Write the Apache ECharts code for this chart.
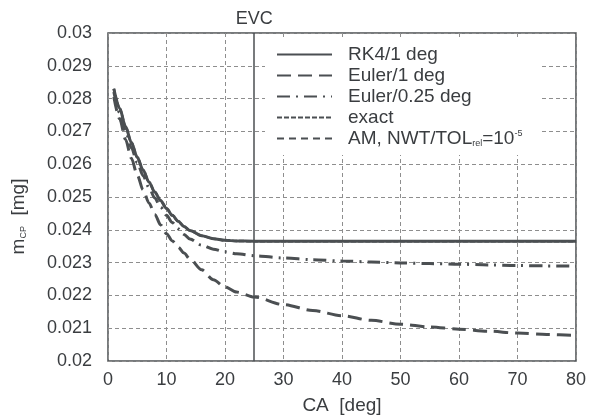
<!DOCTYPE html>
<html>
<head>
<meta charset="utf-8">
<script src="https://cdn.jsdelivr.net/npm/echarts@6/dist/echarts.min.js"></script>
<style>
html,body{margin:0;padding:0;background:#fff;}
#chart{width:589px;height:420px;}
</style>
</head>
<body>
<div id="chart"></div>
<script>
// crank angle [deg]
const ca = [1,2,3,4,5,6,7,8,9,10,11,12,13,14,16,18,20,22,25,30,35,40,45,50,55,60,65,70,75,80];
// m_CP [mg]
const rk4 = [0.02830,0.02770,0.02715,0.02666,0.02621,0.02582,0.02546,0.02515,0.02489,0.02465,0.02444,0.02426,0.02410,0.02398,0.02382,0.02373,0.02368,0.02366,0.02365,0.02365,0.02365,0.02365,0.02365,0.02365,0.02365,0.02365,0.02365,0.02365,0.02365,0.02365];
const euler1 = [0.02805,0.02738,0.02675,0.02618,0.02567,0.02522,0.02482,0.02447,0.02415,0.02388,0.02366,0.02347,0.02329,0.02311,0.02278,0.02248,0.02226,0.02210,0.02195,0.02172,0.02154,0.02138,0.02124,0.02112,0.02104,0.02097,0.02091,0.02085,0.02081,0.02078];
const euler025 = [0.02820,0.02757,0.02701,0.02650,0.02605,0.02565,0.02529,0.02497,0.02469,0.02444,0.02422,0.02403,0.02386,0.02372,0.02353,0.02341,0.02333,0.02327,0.02321,0.02314,0.02309,0.02305,0.02302,0.02299,0.02297,0.02295,0.02293,0.02291,0.02290,0.02289];
const exact = [0.02830,0.02770,0.02715,0.02666,0.02621,0.02582,0.02546,0.02515,0.02489,0.02465,0.02444,0.02426,0.02410,0.02398,0.02382,0.02373,0.02368,0.02366,0.02365,0.02365,0.02365,0.02365,0.02365,0.02365,0.02365,0.02365,0.02365,0.02365,0.02365,0.02365];
const amNwt = [0.02830,0.02770,0.02715,0.02666,0.02621,0.02582,0.02546,0.02515,0.02489,0.02465,0.02444,0.02426,0.02410,0.02398,0.02382,0.02373,0.02368,0.02366,0.02365,0.02365,0.02365,0.02365,0.02365,0.02365,0.02365,0.02365,0.02365,0.02365,0.02365,0.02365];
const seriesNames = ['RK4/1 deg','Euler/1 deg','Euler/0.25 deg','exact','AM, NWT/TOL_rel=10^-5'];
const evcAngle = 25;
const xTicks = [0,10,20,30,40,50,60,70,80];
const yTicks = [0.02,0.021,0.022,0.023,0.024,0.025,0.026,0.027,0.028,0.029,0.03];

const FONT = '"Liberation Sans", Arial, sans-serif';
const TXT = '#3a3d40';
const LINE = '#4b4f52';
const pairs = ys => ca.map((x,i)=>[x,ys[i]]);

const chart = echarts.init(document.getElementById('chart'), null, {renderer:'canvas'});
const common = {type:'line', showSymbol:false, symbol:'none', smooth:0.3, smoothMonotone:'x', animation:false};
chart.setOption({
  backgroundColor:'#fff',
  animation:false,
  textStyle:{fontFamily:FONT},
  grid:{left:108, right:10, top:33, bottom:57, show:true, borderColor:LINE, borderWidth:1.5, backgroundColor:'#fff', containLabel:false},
  xAxis:{
    type:'value', min:xTicks[0], max:xTicks[xTicks.length-1], interval:10,
    name:'CA  [deg]', nameLocation:'middle', nameGap:35,
    nameTextStyle:{fontSize:19, color:TXT, fontFamily:FONT},
    axisLine:{show:false}, axisTick:{show:false},
    axisLabel:{fontSize:18, color:TXT, margin:10, fontFamily:FONT},
    splitLine:{show:true, lineStyle:{color:'#8e8e8e', type:[4,3], width:1}}
  },
  yAxis:{
    type:'value', min:yTicks[0], max:yTicks[yTicks.length-1], interval:0.001,
    name:'{m|m}{sub|CP}{m|  [mg]}', nameLocation:'middle', nameGap:80, nameRotate:90,
    nameTextStyle:{fontSize:19, color:TXT, fontFamily:FONT, padding:[0,39,0,0],
      rich:{m:{fontSize:19, color:TXT, fontFamily:FONT}, sub:{fontSize:9, color:TXT, fontFamily:FONT, verticalAlign:'bottom', padding:[8,0,0,0]}}},
    axisLine:{show:false}, axisTick:{show:false},
    axisLabel:{fontSize:18, color:TXT, margin:16, fontFamily:FONT, formatter:v=>String(parseFloat(v.toFixed(4)))},
    splitLine:{show:true, lineStyle:{color:'#8e8e8e', type:[4,3], width:1}}
  },
  legend:{
    show:true, orient:'vertical', left:265, top:37,
    backgroundColor:'#fff', padding:[8,18,7,11],
    itemWidth:55, itemHeight:14, itemGap:2,
    itemStyle:{opacity:0, borderWidth:0},
    data:seriesNames,
    textStyle:{fontSize:19, color:TXT, fontFamily:FONT, lineHeight:19, padding:[0,0,0,11],
      rich:{
        t:{fontSize:19, color:TXT, fontFamily:FONT, lineHeight:19},
        sub:{fontSize:9, color:TXT, fontFamily:FONT, verticalAlign:'bottom', lineHeight:10, padding:[9,0,0,0]},
        sup:{fontSize:9, color:TXT, fontFamily:FONT, verticalAlign:'top', lineHeight:10, padding:[0,0,7,0]}
      }},
    formatter:function(name){
      if(name.indexOf('TOL_rel')>=0){return '{t|AM, NWT/TOL}{sub|rel}{t|=10}{sup|-5}';}
      return name;
    }
  },
  series:[
    Object.assign({}, common, {name:seriesNames[0], data:pairs(rk4), z:3,
      lineStyle:{color:LINE, width:3, type:'solid'}, itemStyle:{color:LINE},
      markLine:{silent:true, symbol:'none', animation:false,
        lineStyle:{color:LINE, width:1.5, type:'solid'},
        label:{show:true, position:'end', formatter:'EVC', fontSize:18, color:TXT, fontFamily:FONT, distance:5},
        data:[{xAxis:evcAngle}]}}),
    Object.assign({}, common, {name:seriesNames[1], data:pairs(euler1), z:3,
      lineStyle:{color:LINE, width:3, type:[14,7]}, itemStyle:{color:LINE}}),
    Object.assign({}, common, {name:seriesNames[2], data:pairs(euler025), z:3,
      lineStyle:{color:LINE, width:3, type:[13,6,2,6]}, itemStyle:{color:LINE}}),
    Object.assign({}, common, {name:seriesNames[3], data:pairs(exact), z:4,
      lineStyle:{color:LINE, width:2.5, type:[5,2]}, itemStyle:{color:LINE}}),
    Object.assign({}, common, {name:seriesNames[4], data:pairs(amNwt), z:5,
      lineStyle:{color:LINE, width:1.2, type:[7,5]}, itemStyle:{color:LINE}})
  ]
});
</script>
</body>
</html>
